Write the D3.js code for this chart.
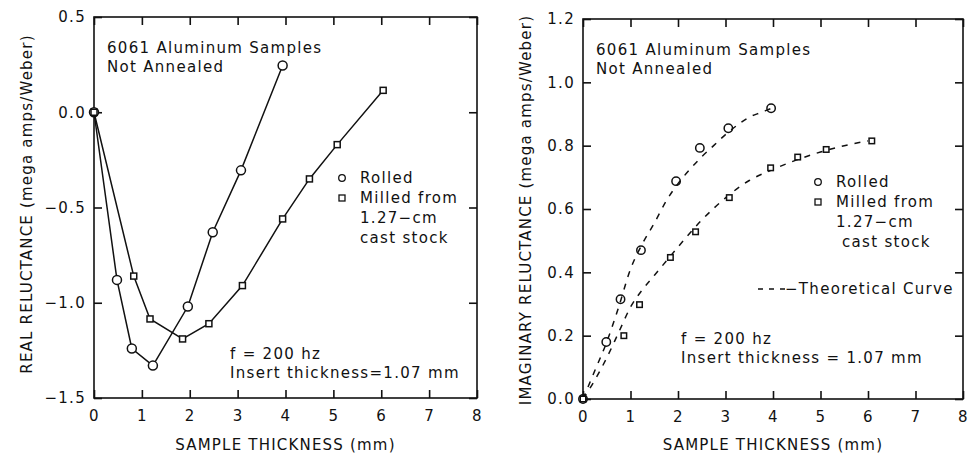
<!DOCTYPE html>
<html>
<head>
<meta charset="utf-8">
<script src="https://cdn.jsdelivr.net/npm/d3@7"></script>
<style>
  body { margin: 0; background: #fff; }
  svg { font-family: "DejaVu Sans", sans-serif; }
  text { fill: #111; }
</style>
</head>
<body>
<div id="chart"></div>
<script>
// --- data ---
const xTicks = [0, 1, 2, 3, 4, 5, 6, 7, 8];
const realTicks = [0.5, 0.0, -0.5, -1.0, -1.5];
const imagTicks = [0.0, 0.2, 0.4, 0.6, 0.8, 1.0, 1.2];

// left panel: real reluctance
const rolledRealX = [0, 0.48, 0.79, 1.23, 1.96, 2.48, 3.07, 3.94];
const rolledRealY = [0, -0.88, -1.24, -1.33, -1.02, -0.63, -0.305, 0.245];
const milledRealX = [0, 0.83, 1.17, 1.85, 2.4, 3.1, 3.94, 4.5, 5.08, 6.04];
const milledRealY = [0, -0.86, -1.085, -1.19, -1.11, -0.91, -0.56, -0.35, -0.17, 0.115];

// right panel: imaginary reluctance
const rolledImagX = [0, 0.49, 0.79, 1.22, 1.96, 2.46, 3.06, 3.96];
const rolledImagY = [0, 0.18, 0.315, 0.47, 0.688, 0.793, 0.855, 0.918];
const milledImagX = [0, 0.86, 1.19, 1.84, 2.37, 3.08, 3.95, 4.52, 5.12, 6.08];
const milledImagY = [0, 0.2, 0.298, 0.447, 0.528, 0.636, 0.73, 0.764, 0.788, 0.815];

// theoretical curves (dashed)
const rolledTheoryX = [0, 0.25, 0.5, 0.75, 1.0, 1.25, 1.5, 1.75, 2.0, 2.25, 2.5, 2.75, 3.0, 3.25, 3.5, 3.75, 4.0];
const rolledTheoryY = [0, 0.09, 0.18, 0.29, 0.41, 0.49, 0.555, 0.625, 0.68, 0.725, 0.765, 0.8, 0.835, 0.865, 0.89, 0.905, 0.92];
const milledTheoryX = [0, 0.25, 0.5, 0.75, 1.0, 1.25, 1.5, 1.75, 2.0, 2.5, 3.0, 3.5, 4.0, 4.5, 5.0, 5.5, 6.0];
const milledTheoryY = [0, 0.06, 0.13, 0.21, 0.29, 0.345, 0.39, 0.435, 0.48, 0.565, 0.635, 0.69, 0.725, 0.755, 0.78, 0.8, 0.815];

const ink = '#111';
const zip = (xs, ys) => xs.map((x, i) => [x, ys[i]]);

const svg = d3.select('#chart').append('svg')
    .attr('width', 971)
    .attr('height', 456);

function drawPanel(p) {
    const x = d3.scaleLinear().domain([0, 8]).range([p.left, p.right]);
    const y = d3.scaleLinear().domain(p.yDomain).range([p.bottom, p.top]);
    const g = svg.append('g');

    // frame
    g.append('rect')
        .attr('x', p.left).attr('y', p.top)
        .attr('width', p.right - p.left).attr('height', p.bottom - p.top)
        .attr('fill', 'none').attr('stroke', ink).attr('stroke-width', 1.6);

    // inward ticks on all four sides
    const fmt = d3.format('.1f');
    g.append('g').attr('transform', `translate(0,${p.bottom})`)
        .call(d3.axisBottom(x).tickValues(xTicks).tickSize(-8).tickPadding(12).tickFormat(d3.format('d')));
    g.append('g').attr('transform', `translate(0,${p.top})`)
        .call(d3.axisTop(x).tickValues(xTicks).tickSize(-8).tickFormat(''));
    g.append('g').attr('transform', `translate(${p.left},0)`)
        .call(d3.axisLeft(y).tickValues(p.yTicks).tickSize(-8).tickPadding(8).tickFormat(fmt));
    g.append('g').attr('transform', `translate(${p.right},0)`)
        .call(d3.axisRight(y).tickValues(p.yTicks).tickSize(-8).tickFormat(''));

    g.selectAll('.domain').remove();
    g.selectAll('.tick line').attr('stroke', ink).attr('stroke-width', 1.6);
    g.selectAll('.tick text')
        .attr('fill', ink)
        .style('font-size', '15px')
        .style('letter-spacing', '1.3px')
        .style('font-family', '"DejaVu Sans", sans-serif');

    // axis titles
    g.append('text')
        .attr('x', (p.left + p.right) / 2).attr('y', 450)
        .attr('text-anchor', 'middle')
        .style('font-size', '15px').style('letter-spacing', '1.2px')
        .text('SAMPLE THICKNESS (mm)');
    g.append('text')
        .attr('transform', `translate(${p.titleX},${p.titleY}) rotate(-90)`)
        .attr('text-anchor', 'middle')
        .attr('dy', '0.35em')
        .style('font-size', '15px').style('letter-spacing', '1.2px')
        .text(p.yTitle);

    const line = d3.line().x(d => x(d[0])).y(d => y(d[1]));

    // dashed theoretical curves
    (p.theory || []).forEach(t => {
        g.append('path')
            .attr('d', line.curve(d3.curveMonotoneX)(t))
            .attr('fill', 'none').attr('stroke', ink)
            .attr('stroke-width', 1.5)
            .attr('stroke-dasharray', '6,7');
    });

    // solid connecting lines
    if (p.solid) {
        [p.rolled, p.milled].forEach(s => {
            g.append('path')
                .attr('d', line.curve(d3.curveLinear)(s))
                .attr('fill', 'none').attr('stroke', ink).attr('stroke-width', 1.5);
        });
    }

    // markers
    g.append('g').selectAll('circle')
        .data(p.rolled)
        .join('circle')
        .attr('cx', d => x(d[0])).attr('cy', d => y(d[1]))
        .attr('r', p.r)
        .attr('fill', p.solid ? '#fff' : 'none')
        .attr('stroke', ink).attr('stroke-width', 1.5);
    g.append('g').selectAll('rect')
        .data(p.milled)
        .join('rect')
        .attr('x', d => x(d[0]) - p.s / 2).attr('y', d => y(d[1]) - p.s / 2)
        .attr('width', p.s).attr('height', p.s)
        .attr('fill', '#fff')
        .attr('stroke', ink).attr('stroke-width', 1.5);

    // annotations
    const note = (tx, ty, str) => g.append('text')
        .attr('x', tx).attr('y', ty)
        .style('font-size', '15px').style('letter-spacing', '1.3px')
        .style('white-space', 'pre')
        .text(str);

    note(p.left + 13, p.top + 36, '6061 Aluminum Samples');
    note(p.left + 13, p.top + 55, 'Not Annealed');

    const lg = p.legend;
    g.append('circle').attr('cx', lg.x).attr('cy', lg.y - 5).attr('r', 3.3)
        .attr('fill', 'none').attr('stroke', ink).attr('stroke-width', 1.3);
    g.append('rect').attr('x', lg.x - 3).attr('y', lg.y + 20 - 8).attr('width', 6).attr('height', 6)
        .attr('fill', 'none').attr('stroke', ink).attr('stroke-width', 1.3);
    note(lg.x + 18, lg.y, 'Rolled');
    note(lg.x + 18, lg.y + 20, 'Milled from');
    note(lg.x + 18, lg.y + 40, '1.27\u2212cm');
    note(lg.x + 18 + lg.indent, lg.y + 60, 'cast stock');

    if (p.theoryLabel) {
        const tl = p.theoryLabel;
        g.append('line')
            .attr('x1', tl.x).attr('x2', tl.x + 28)
            .attr('y1', tl.y - 5).attr('y2', tl.y - 5)
            .attr('stroke', ink).attr('stroke-width', 1.4)
            .attr('stroke-dasharray', '5,6');
        note(tl.x + 27, tl.y, '\u2212Theoretical Curve');
    }

    note(p.cond.x, p.cond.y, 'f = 200 hz');
    note(p.cond.x, p.cond.y + 19, p.cond.insert);
}

drawPanel({
    left: 94, right: 477, top: 17, bottom: 398,
    yDomain: [-1.5, 0.5], yTicks: realTicks,
    yTitle: 'REAL RELUCTANCE (mega amps/Weber)', titleX: 27, titleY: 204,
    rolled: zip(rolledRealX, rolledRealY),
    milled: zip(milledRealX, milledRealY),
    solid: true, r: 4.5, s: 6,
    legend: { x: 342, y: 183, indent: 0 },
    cond: { x: 230, y: 359, insert: 'Insert thickness=1.07 mm' }
});

drawPanel({
    left: 583, right: 963, top: 19, bottom: 399,
    yDomain: [0, 1.2], yTicks: imagTicks,
    yTitle: 'IMAGINARY RELUCTANCE (mega amps/Weber)', titleX: 526, titleY: 210,
    rolled: zip(rolledImagX, rolledImagY),
    milled: zip(milledImagX, milledImagY),
    theory: [zip(rolledTheoryX, rolledTheoryY), zip(milledTheoryX, milledTheoryY)],
    solid: false, r: 4.2, s: 5.5,
    legend: { x: 818, y: 187, indent: 6 },
    theoryLabel: { x: 758, y: 294 },
    cond: { x: 681, y: 344, insert: 'Insert thickness = 1.07 mm' }
});
</script>
</body>
</html>
